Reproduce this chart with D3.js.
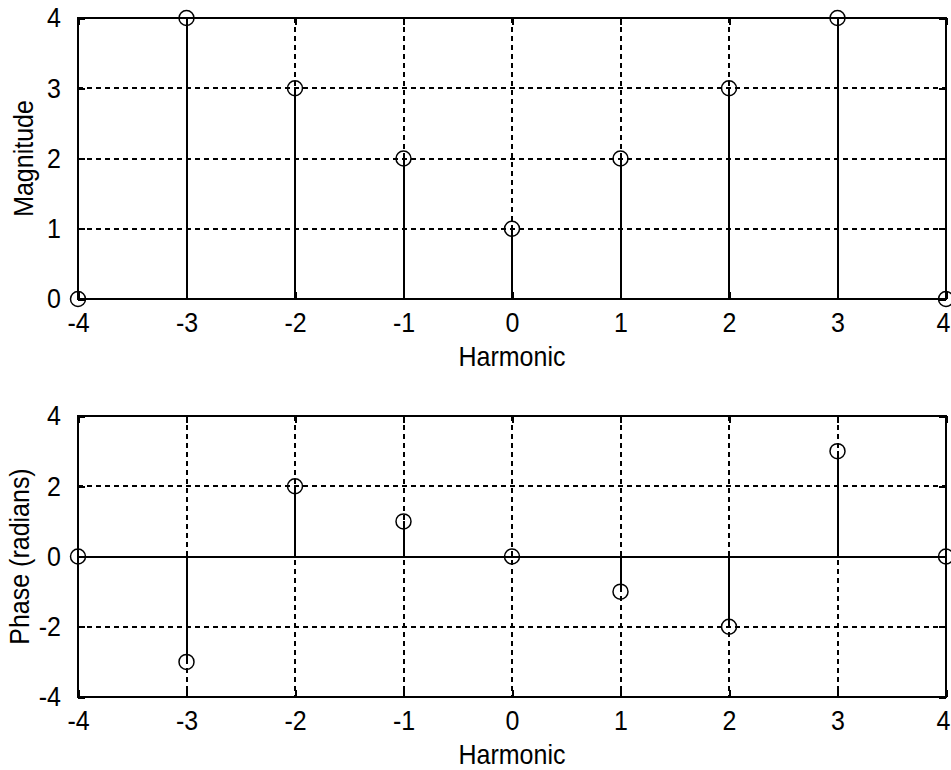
<!DOCTYPE html>
<html>
<head>
<meta charset="utf-8">
<script src="https://cdn.jsdelivr.net/npm/d3@7"></script>
<style>
  body { margin: 0; background: #fff; }
  svg text {
    font-family: "Liberation Sans", Arial, sans-serif; font-size: 25px; fill: #000;
    transform-box: fill-box; transform-origin: center; transform: scaleY(1.1);
  }
  line, rect { shape-rendering: crispEdges; }
</style>
</head>
<body>
<svg width="951" height="770"></svg>
<script>
// harmonic number and values
const harmonics = [-4, -3, -2, -1, 0, 1, 2, 3, 4];
const magnitude = [0, 4, 3, 2, 1, 2, 3, 4, 0];
const phase = [0, -3, 2, 1, 0, -1, -2, 3, 0];

const xTicks = [-4, -3, -2, -1, 0, 1, 2, 3, 4];
const magTicks = [0, 1, 2, 3, 4];
const phaseTicks = [-4, -2, 0, 2, 4];

const svg = d3.select('svg');

const x = d3.scaleLinear().domain([-4, 4]).range([78, 946]);

function stemPlot(values, yDomain, yTicks, top, bottom, ylabel) {
    var y = d3.scaleLinear().domain(yDomain).range([bottom, top]);
    var g = svg.append('g');

    // dashed grid
    g.selectAll('.vgrid')
        .data(xTicks.slice(1, -1))
        .enter()
        .append('line')
        .attr('x1', d => x(d)).attr('x2', d => x(d))
        .attr('y1', top).attr('y2', bottom)
        .attr('stroke', '#000')
        .attr('stroke-width', 2)
        .attr('stroke-dasharray', '5,4');

    g.selectAll('.hgrid')
        .data(yTicks.slice(1, -1))
        .enter()
        .append('line')
        .attr('x1', x(-4)).attr('x2', x(4))
        .attr('y1', d => y(d)).attr('y2', d => y(d))
        .attr('stroke', '#000')
        .attr('stroke-width', 2)
        .attr('stroke-dasharray', '5,4');

    // stem baseline
    g.append('line')
        .attr('x1', x(-4)).attr('x2', x(4))
        .attr('y1', y(0)).attr('y2', y(0))
        .attr('stroke', '#000')
        .attr('stroke-width', 2);

    // box
    g.append('rect')
        .attr('x', x(-4)).attr('y', top)
        .attr('width', x(4) - x(-4)).attr('height', bottom - top)
        .attr('fill', 'none')
        .attr('stroke', '#000')
        .attr('stroke-width', 2);

    // inward ticks
    var xAxisB = d3.axisBottom(x).tickValues(xTicks).tickSize(-7).tickPadding(14).tickFormat(d3.format('d'));
    var xAxisT = d3.axisTop(x).tickValues(xTicks).tickSize(-7).tickFormat('');
    var yAxisL = d3.axisLeft(y).tickValues(yTicks).tickSize(-7).tickPadding(17).tickFormat(d3.format('d'));
    var yAxisR = d3.axisRight(y).tickValues(yTicks).tickSize(-7).tickFormat('');

    var ax = g.append('g').attr('transform', 'translate(0,' + bottom + ')').call(xAxisB);
    g.append('g').attr('transform', 'translate(0,' + top + ')').call(xAxisT);
    var ay = g.append('g').attr('transform', 'translate(' + x(-4) + ',0)').call(yAxisL);
    g.append('g').attr('transform', 'translate(' + x(4) + ',0)').call(yAxisR);
    g.selectAll('.domain').remove();
    g.selectAll('.tick line').attr('stroke', '#000').attr('stroke-width', 2);
    g.selectAll('.tick text').attr('font-size', null).attr('font-family', null).attr('fill', '#000');
    ax.selectAll('text').text(d => d < 0 ? '-' + Math.abs(d) : d);
    ay.selectAll('text').text(d => d < 0 ? '-' + Math.abs(d) : d);
    // last label sits on the right edge of the figure
    ax.selectAll('text').filter(d => d === 4)
        .attr('text-anchor', 'end')
        .attr('x', 950 - x(4));

    // stems
    g.selectAll('.stem')
        .data(harmonics)
        .enter()
        .append('line')
        .attr('x1', d => x(d)).attr('x2', d => x(d))
        .attr('y1', y(0)).attr('y2', (d, i) => y(values[i]))
        .attr('stroke', '#000')
        .attr('stroke-width', 2);

    g.selectAll('.marker')
        .data(harmonics)
        .enter()
        .append('circle')
        .attr('cx', d => x(d))
        .attr('cy', (d, i) => y(values[i]))
        .attr('r', 7.5)
        .attr('fill', 'none')
        .attr('stroke', '#000')
        .attr('stroke-width', 1.5);

    // labels
    svg.append('text')
        .attr('x', (x(-4) + x(4)) / 2)
        .attr('y', bottom + 66)
        .attr('text-anchor', 'middle')
        .text('Harmonic');

    svg.append('g')
        .attr('transform', 'translate(' + ylabel.x + ',' + (top + bottom) / 2 + ') rotate(-90)')
        .append('text')
        .attr('text-anchor', 'middle')
        .text(ylabel.text);
}

stemPlot(magnitude, [0, 4], magTicks, 18, 299, { text: 'Magnitude', x: 32 });
stemPlot(phase, [-4, 4], phaseTicks, 416, 697, { text: 'Phase (radians)', x: 28 });
</script>
</body>
</html>
